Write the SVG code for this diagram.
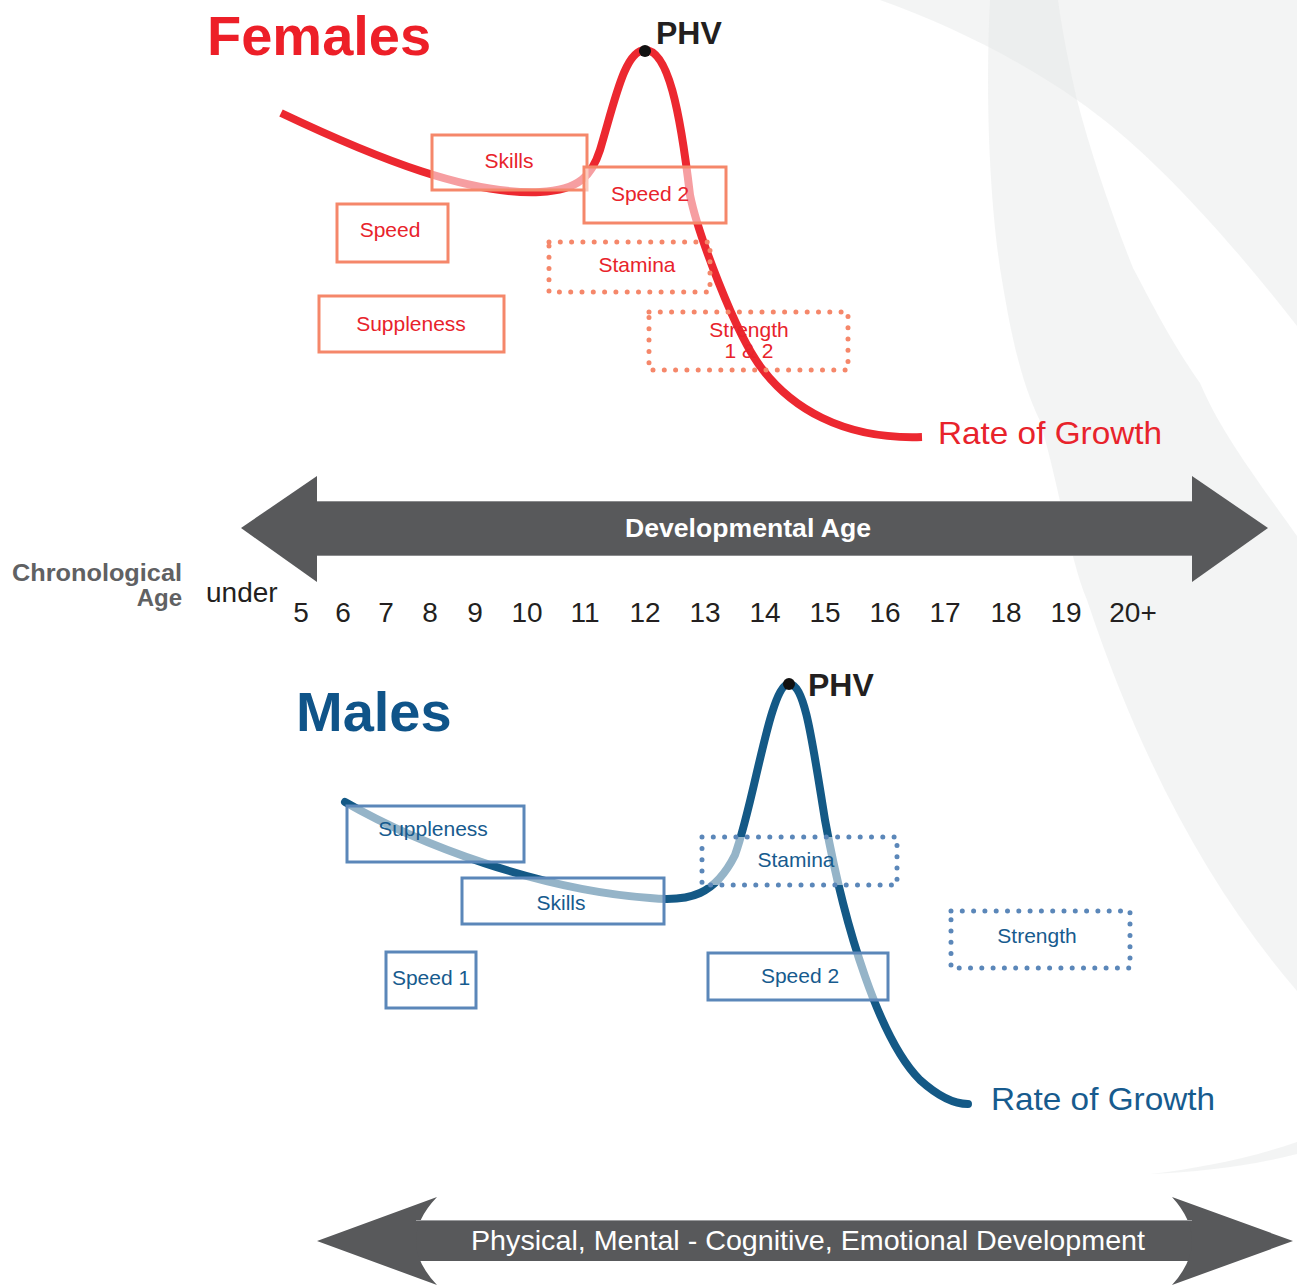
<svg xmlns="http://www.w3.org/2000/svg" width="1297" height="1286" viewBox="0 0 1297 1286">
<style>
text{font-family:"Liberation Sans",Arial,sans-serif}
.fbox{fill:#fff;fill-opacity:0.55;stroke:#f5876a;stroke-width:3}
.fdot{fill:none;stroke:#f5876a;stroke-width:5;stroke-linecap:round;stroke-dasharray:0 11.3}
.mbox{fill:#fff;fill-opacity:0.55;stroke:#5b87b9;stroke-width:3}
.mdot{fill:#fff;fill-opacity:0.55;stroke:#5b87b9;stroke-width:5;stroke-linecap:round;stroke-dasharray:0 11.3}
.ft{fill:#e8232b;font-size:21px;text-anchor:middle}
.mt{fill:#175b8e;font-size:21px;text-anchor:middle}
.num{fill:#231f20;font-size:28px;text-anchor:middle}
.arrow{fill:#58595b}
.bg{fill:#e4e6e6;fill-opacity:0.45}
</style>
<g id="background">
<path class="bg" d="M880,0 C950,25 1020,60 1077,100 C1150,150 1230,240 1297,326 L1297,0 Z"/>
<path class="bg" d="M990,0 C985,100 990,200 1000,268 C1010,330 1020,380 1040,421 C1060,490 1070,560 1087,600 C1140,760 1210,890 1297,991 L1297,536 C1250,470 1220,430 1200,383 C1170,340 1150,300 1133,268 C1110,210 1090,150 1077,100 C1068,60 1062,30 1058,0 Z"/>
<path class="bg" d="M1150,1174 C1200,1168 1250,1158 1297,1142 L1297,1154 C1250,1166 1200,1172 1150,1174 Z"/>
</g>
<g id="females-title"><text x="207" y="55" font-size="56" font-weight="bold" fill="#ed1f28">Females</text></g>
<g id="males-title"><text x="296" y="731" font-size="56" font-weight="bold" fill="#0f5489">Males</text></g>
<g id="curves">
<path d="M281,113 C380,160 470,195 540,192 C580,190 592,175 600,150 C615,100 625,50 645,50 C668,50 680,110 690,195 C697,230 735,335 763,370 C790,405 840,440 922,437" fill="none" stroke="#ec2830" stroke-width="8"/>
<path d="M345,802 C420,845 540,890 650,898 C690,902 715,895 735,855 C755,800 770,684 789,684 C805,684 812,740 825,820 C845,930 880,1040 920,1080 C940,1098 955,1104 968,1104" fill="none" stroke="#145986" stroke-width="8" stroke-linecap="round"/>
</g>
<g id="f-phv"><circle cx="645" cy="51" r="6" fill="#111"/><text x="656" y="44" font-size="32" font-weight="bold" fill="#231f20">PHV</text></g>
<g id="m-phv"><circle cx="789" cy="684" r="6" fill="#111"/><text x="808" y="696" font-size="32" font-weight="bold" fill="#231f20">PHV</text></g>
<g id="f-skills"><rect class="fbox" x="432" y="135" width="155" height="55"/><text class="ft" x="509" y="168">Skills</text></g>
<g id="f-speed2"><rect class="fbox" x="584" y="167" width="142" height="56"/><text class="ft" x="650" y="201">Speed 2</text></g>
<g id="f-speed"><rect class="fbox" x="337" y="204" width="111" height="58"/><text class="ft" x="390" y="237">Speed</text></g>
<g id="f-suppleness"><rect class="fbox" x="319" y="296" width="185" height="56"/><text class="ft" x="411" y="331">Suppleness</text></g>
<g id="f-stamina"><rect class="fdot" x="549" y="242" width="161" height="50"/><text class="ft" x="637" y="272">Stamina</text></g>
<g id="f-strength"><rect class="fdot" x="649" y="312" width="199" height="58"/><text class="ft" x="749" y="337">Strength</text><text class="ft" x="749" y="358">1 &amp; 2</text></g>
<g id="f-rate"><text x="938" y="444" font-size="32" fill="#e8232b" textLength="224" lengthAdjust="spacingAndGlyphs">Rate of Growth</text></g>
<g id="m-suppleness"><rect class="mbox" x="347" y="806" width="177" height="56"/><text class="mt" x="433" y="836">Suppleness</text></g>
<g id="m-skills"><rect class="mbox" x="462" y="878" width="202" height="46"/><text class="mt" x="561" y="910">Skills</text></g>
<g id="m-speed1"><rect class="mbox" x="386" y="952" width="90" height="56"/><text class="mt" x="431" y="985">Speed 1</text></g>
<g id="m-stamina"><rect class="mdot" x="702" y="837" width="195" height="48"/><text class="mt" x="796" y="867">Stamina</text></g>
<g id="m-speed2"><rect class="mbox" x="708" y="953" width="180" height="47"/><text class="mt" x="800" y="983">Speed 2</text></g>
<g id="m-strength"><rect class="mdot" x="951" y="911" width="179" height="57"/><text class="mt" x="1037" y="943">Strength</text></g>
<g id="m-rate"><text x="991" y="1110" font-size="32" fill="#175b8e" textLength="224" lengthAdjust="spacingAndGlyphs">Rate of Growth</text></g>
<g id="dev-arrow">
<rect class="arrow" x="310" y="501" width="890" height="55"/>
<path class="arrow" d="M241,528 L317,476 L317,582 Z"/>
<path class="arrow" d="M1268,528 L1192,476 L1192,582 Z"/>
<line x1="317" y1="501.5" x2="1192" y2="501.5" stroke="#8a8b8d" stroke-width="1"/>
<line x1="317" y1="555.5" x2="1192" y2="555.5" stroke="#8a8b8d" stroke-width="1"/>
<text x="748" y="537" font-size="26" font-weight="bold" fill="#fff" text-anchor="middle" textLength="246" lengthAdjust="spacingAndGlyphs">Developmental Age</text>
</g>
<g id="age-axis">
<text x="182" y="581" font-size="24" font-weight="bold" fill="#606163" text-anchor="end" textLength="170" lengthAdjust="spacingAndGlyphs">Chronological</text>
<text x="182" y="606" font-size="24" font-weight="bold" fill="#606163" text-anchor="end">Age</text>
<text x="206" y="602" font-size="28" fill="#231f20">under</text>
<text class="num" x="301" y="622">5</text>
<text class="num" x="343" y="622">6</text>
<text class="num" x="386" y="622">7</text>
<text class="num" x="430" y="622">8</text>
<text class="num" x="475" y="622">9</text>
<text class="num" x="527" y="622">10</text>
<text class="num" x="585" y="622">11</text>
<text class="num" x="645" y="622">12</text>
<text class="num" x="705" y="622">13</text>
<text class="num" x="765" y="622">14</text>
<text class="num" x="825" y="622">15</text>
<text class="num" x="885" y="622">16</text>
<text class="num" x="945" y="622">17</text>
<text class="num" x="1006" y="622">18</text>
<text class="num" x="1066" y="622">19</text>
<text class="num" x="1133" y="622">20+</text>
</g>
<g id="dev-arrow-bottom">
<rect class="arrow" x="412" y="1220" width="784" height="41"/>
<path class="arrow" d="M317,1241 L437,1197 Q395,1241 437,1285 Z"/>
<path class="arrow" d="M1293,1241 L1172,1197 Q1212,1241 1172,1285 Z"/>
<line x1="416" y1="1220.5" x2="1192" y2="1220.5" stroke="#9a9b9d" stroke-width="1"/>
<text x="808" y="1250" font-size="28" fill="#fff" text-anchor="middle" textLength="674" lengthAdjust="spacingAndGlyphs">Physical, Mental - Cognitive, Emotional Development</text>
</g>
</svg>
